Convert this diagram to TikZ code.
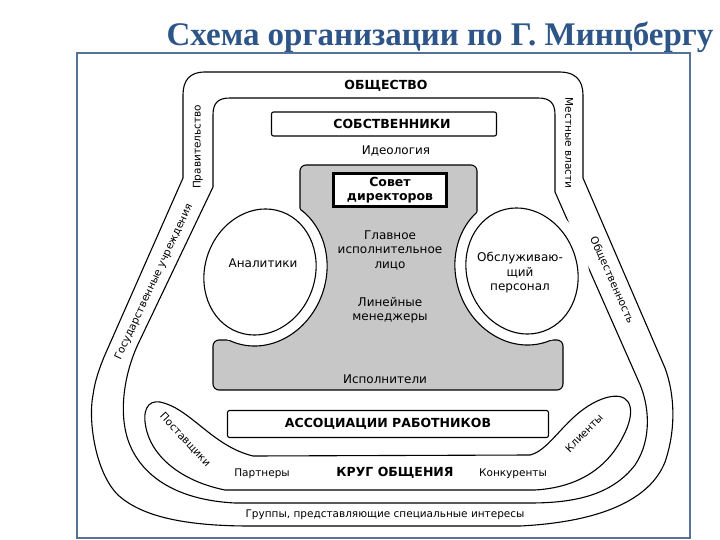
\documentclass[tikz,border=0pt]{standalone}
\usepackage{fontspec}
\setmainfont{DejaVu Sans}
\newfontfamily\titlefont{Liberation Serif}
\usetikzlibrary{calc}

\definecolor{titleblue}{RGB}{45,85,135}
\definecolor{framegray}{RGB}{85,115,150}

\begin{document}
\begin{tikzpicture}[x=1pt, y=-1pt,
    band/.style={draw, line width=1.1pt},
    capstext/.style={font=\bfseries\fontsize{12.5}{14}\selectfont, inner sep=1pt},
    lbl/.style={font=\fontsize{10.5}{12}\selectfont, inner sep=1pt},
    txt/.style={font=\fontsize{12}{14.5}\selectfont, align=center, inner sep=1pt},
    capbox/.style={draw, line width=1.1pt, rounded corners=2pt, capstext, fill=white},
    halo/.style={x radius=66, y radius=75},
    oval/.style={x radius=55, y radius=64}
]
\useasboundingbox (0,0) rectangle (720,540);

\node[font=\titlefont\bfseries\fontsize{33}{35}\selectfont, text=titleblue] (title) at (440,37) {Схема организации по Г. Минцбергу};
\draw[framegray, line width=1.5pt] (77,53) rectangle (690,538);

\draw[band] (183,178) -- (183,95) .. controls (183,80) and (190,72) .. (205,72) -- (560,72)
    .. controls (575,72) and (583,80) .. (583,95) -- (583,178) -- (665,368)
    .. controls (675,395) and (676,430) .. (665,462) .. controls (650,500) and (600,522) .. (520,526)
    -- (250,526) .. controls (180,526) and (140,515) .. (118,495)
    .. controls (95,472) and (88,420) .. (93,395) .. controls (95,380) and (100,367) .. (104,357) -- cycle;
\draw[band] (213,187) -- (213,115) .. controls (213,103) and (218,98) .. (230,98) -- (538,98)
    .. controls (550,98) and (555,103) .. (555,115) -- (555,192) -- (638,380)
    .. controls (650,405) and (652,440) .. (635,465) .. controls (612,495) and (575,503) .. (530,503)
    -- (235,503) .. controls (175,500) and (140,475) .. (128,440)
    .. controls (118,410) and (125,370) .. (140,340) -- cycle;
\draw[band] (253,456) -- (530,455) .. controls (552,450) and (568,410) .. (605,398)
    .. controls (628,391) and (636,405) .. (627,428) .. controls (613,462) and (585,487) .. (535,490)
    -- (225,490) .. controls (185,482) and (155,460) .. (147,432)
    .. controls (141,410) and (148,400) .. (160,402) .. controls (190,408) and (212,446) .. (253,456) -- cycle;

\def\core{(213,340) -- (260,340) -- (260,220) -- (300,220) -- (300,165) -- (477,165) -- (477,220)
    -- (522,220) -- (522,340) -- (563,340) -- (563,390) -- (213,390) -- cycle}
\draw[band, fill=black!22, rounded corners=6pt] \core;
\fill[white, rotate around={-20:(260,272)}] (260,272) ellipse [halo];
\fill[white, rotate around={20:(522,271)}] (522,271) ellipse [halo];
\begin{scope}
\clip[rounded corners=6pt] \core;
\draw[band, rotate around={-20:(260,272)}] (260,272) ellipse [halo];
\draw[band, rotate around={20:(522,271)}] (522,271) ellipse [halo];
\end{scope}
\draw[band, fill=white, rotate around={-20:(260,272)}] (260,272) ellipse [oval];
\draw[band, fill=white, rotate around={20:(522,271)}] (522,271) ellipse [oval];

\node[capstext] (society) at (386,86) {ОБЩЕСТВО};
\node[capbox, minimum width=225pt, minimum height=24pt] (owners) at (384,124) {};
\node[capstext] (ownerstext) at (392,124) {СОБСТВЕННИКИ};
\node[txt] (ideology) at (396,151) {Идеология};
\node[txt, font=\bfseries\fontsize{12.5}{14.5}\selectfont, draw, fill=white, line width=2.5pt, minimum width=113pt, minimum height=33pt] (board) at (390,190) {Совет\\директоров};
\node[txt] (ceo) at (390,250) {Главное\\исполнительное\\лицо};
\node[txt] (line) at (390,310) {Линейные\\менеджеры};
\node[txt] (workers) at (385,379) {Исполнители};
\node[txt] (analysts) at (263,263) {Аналитики};
\node[txt] (staff) at (520,273) {Обслуживаю-\\щий\\персонал};
\node[capbox, minimum width=321pt, minimum height=27pt] (unions) at (388,424) {АССОЦИАЦИИ РАБОТНИКОВ};

\node[lbl] (partners) at (262,474) {Партнеры};
\node[capstext] (circle) at (395,473) {КРУГ ОБЩЕНИЯ};
\node[lbl] (rivals) at (513,474) {Конкуренты};
\node[lbl] (groups) at (385,515) {Группы, представляющие специальные интересы};
\node[lbl, rotate=90] (gov) at (198,147) {Правительство};
\node[lbl, rotate=-90] (local) at (569,143) {Местные власти};
\node[lbl, rotate=65] (agencies) at (154,282) {Государственные учреждения};
\node[lbl, rotate=-66] (public) at (612,280) {Общественность};
\node[lbl, rotate=-47] (suppliers) at (185,440) {Поставщики};
\node[lbl, rotate=46] (clients) at (584,433) {Клиенты};
\end{tikzpicture}
\end{document}
